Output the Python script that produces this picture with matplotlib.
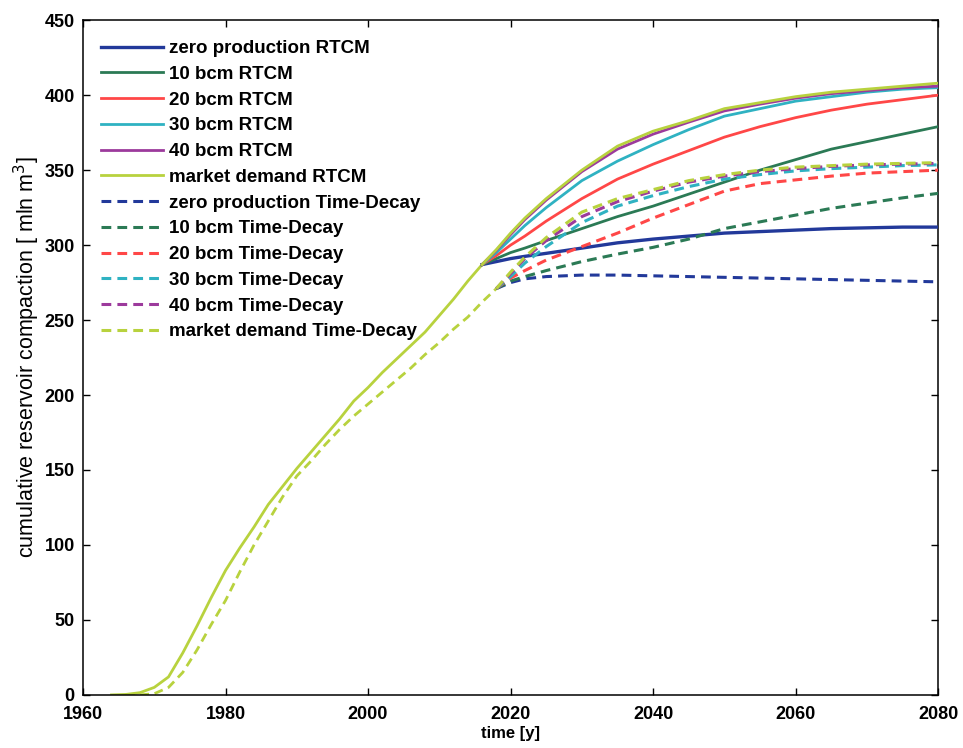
import numpy as np
import matplotlib.pyplot as plt

# ---- data ----
# common history (RTCM, solid)
hist_rtcm_years = [1964, 1966, 1968, 1970, 1972, 1974, 1976, 1978, 1980, 1982, 1984, 1986, 1988,
                   1990, 1992, 1994, 1996, 1998, 2000, 2002, 2004, 2006, 2008, 2010, 2012, 2014, 2016]
hist_rtcm_vals = [0, 0.3, 1.5, 5, 12, 28, 46, 65, 83, 98, 112, 127, 139,
                  151, 162, 173, 184, 196, 205, 215, 224, 233, 242, 253, 264, 276, 287]

# common history (Time-Decay, dashed)
hist_td_years = [1966, 1968, 1970, 1972, 1974, 1976, 1978, 1980, 1982, 1984, 1986, 1988, 1990,
                 1992, 1994, 1996, 1998, 2000, 2002, 2004, 2006, 2008, 2010, 2012, 2014, 2016, 2018]
hist_td_vals = [0, 0, 0.8, 5, 15, 30, 47, 63, 82, 100, 116, 132, 146,
                156, 167, 177, 186, 194, 202, 210, 218, 227, 235, 244, 252, 262, 271]

# forecasts
rtcm_years = [2016, 2018, 2020, 2022, 2025, 2030, 2035, 2040, 2045, 2050, 2055, 2060, 2065, 2070, 2075, 2080]
rtcm_zero = [287, 289, 291, 292.5, 294.5, 298, 301.5, 304, 306, 308, 309, 310, 311, 311.5, 312, 312]
rtcm_10 = [287, 291, 295, 298, 303, 311, 319, 326, 334, 342, 350, 357, 364, 369, 374, 379]
rtcm_20 = [287, 293, 300, 306, 316, 331, 344, 354, 363, 372, 379, 385, 390, 394, 397, 400]
rtcm_30 = [287, 295, 304, 313, 325, 343, 356, 367, 377, 386, 391, 396, 399, 402, 404, 405]
rtcm_40 = [287, 296.5, 307, 317, 330, 349, 364, 374, 382, 389.5, 394, 398, 401, 403, 405, 406]
rtcm_market = [287, 297, 308, 318, 331, 350, 366, 376, 383, 391, 395, 399, 402, 404, 406, 408]

td_years = [2018, 2020, 2022, 2025, 2030, 2035, 2040, 2045, 2050, 2055, 2060, 2065, 2070, 2075, 2080]
td_zero = [271, 275, 277.5, 279, 280, 280, 279.5, 279, 278.5, 278, 277.5, 277, 276.5, 276, 275.5]
td_10 = [271, 276, 279, 283, 289, 294, 298.5, 304, 311, 315.5, 320, 324.5, 328, 331.5, 334.5]
td_20 = [271, 278, 283, 290, 299, 308, 318, 327, 336, 341, 343.5, 346, 348, 349, 350]
td_30 = [271, 279, 288, 299, 315, 326, 333, 339, 344, 347, 349.5, 351, 352, 353, 353.5]
td_40 = [271, 281, 291, 303, 319, 329, 336, 342, 346, 349, 351, 352.5, 353.5, 354, 354.5]
td_market = [271, 282, 292, 305, 322, 331, 337, 343, 347, 350, 352, 353, 354, 354.5, 355]

scenario_names = ['zero production', '10 bcm', '20 bcm', '30 bcm', '40 bcm', 'market demand']
colors = ['#22399a', '#2b7a55', '#ff4747', '#2fb2c2', '#9c3a9c', '#b8d23e']
rtcm_series = [rtcm_zero, rtcm_10, rtcm_20, rtcm_30, rtcm_40, rtcm_market]
td_series = [td_zero, td_10, td_20, td_30, td_40, td_market]

plt.rcParams['font.family'] = ['Liberation Sans', 'DejaVu Sans']
dash = (0, (3.2, 2.0))

fig = plt.figure(figsize=(9.63, 7.48), dpi=100)
ax = fig.add_axes([0.0862, 0.071, 0.888, 0.902])

# history curves drawn underneath (market demand colour)
ax.plot(hist_rtcm_years, hist_rtcm_vals, color=colors[-1], lw=2, zorder=2)
ax.plot(hist_td_years, hist_td_vals, color=colors[-1], lw=2, ls=dash, zorder=2)

handles = []
for name, c, s in zip(scenario_names, colors, rtcm_series):
    h, = ax.plot(rtcm_years, s, color=c, lw=2.4 if c == colors[0] else 2, label=name + ' RTCM', zorder=3)
    handles.append(h)
for name, c, s in zip(scenario_names, colors, td_series):
    h, = ax.plot(td_years, s, color=c, lw=2.2, ls=dash, label=name + ' Time-Decay', zorder=3)
    handles.append(h)

ax.set_xlim(1960, 2080)
ax.set_ylim(0, 450)
ax.set_xticks(np.arange(1960, 2081, 20))
ax.set_yticks(np.arange(0, 451, 50))
ax.tick_params(direction='in', top=True, right=True, length=5, width=1, labelsize=13)
ax.tick_params(axis='x', pad=8)
ax.tick_params(axis='y', pad=6)
for lab in ax.get_xticklabels() + ax.get_yticklabels():
    lab.set_fontweight('bold')
for sp in ax.spines.values():
    sp.set_linewidth(1.1)

ax.set_xlabel('time [y]', fontsize=12, fontweight='bold', labelpad=2)
ax.set_ylabel('cumulative reservoir compaction [ mln m$^3$]', fontsize=15.5, labelpad=2)

ax.legend(handles=handles, loc='upper left', frameon=False,
          prop={'weight': 'bold', 'size': 13.5}, handlelength=3.3, handletextpad=0.3,
          labelspacing=0.46, borderaxespad=0.3, bbox_to_anchor=(0.006, 0.99))

fig.savefig('out.png', dpi=100)
